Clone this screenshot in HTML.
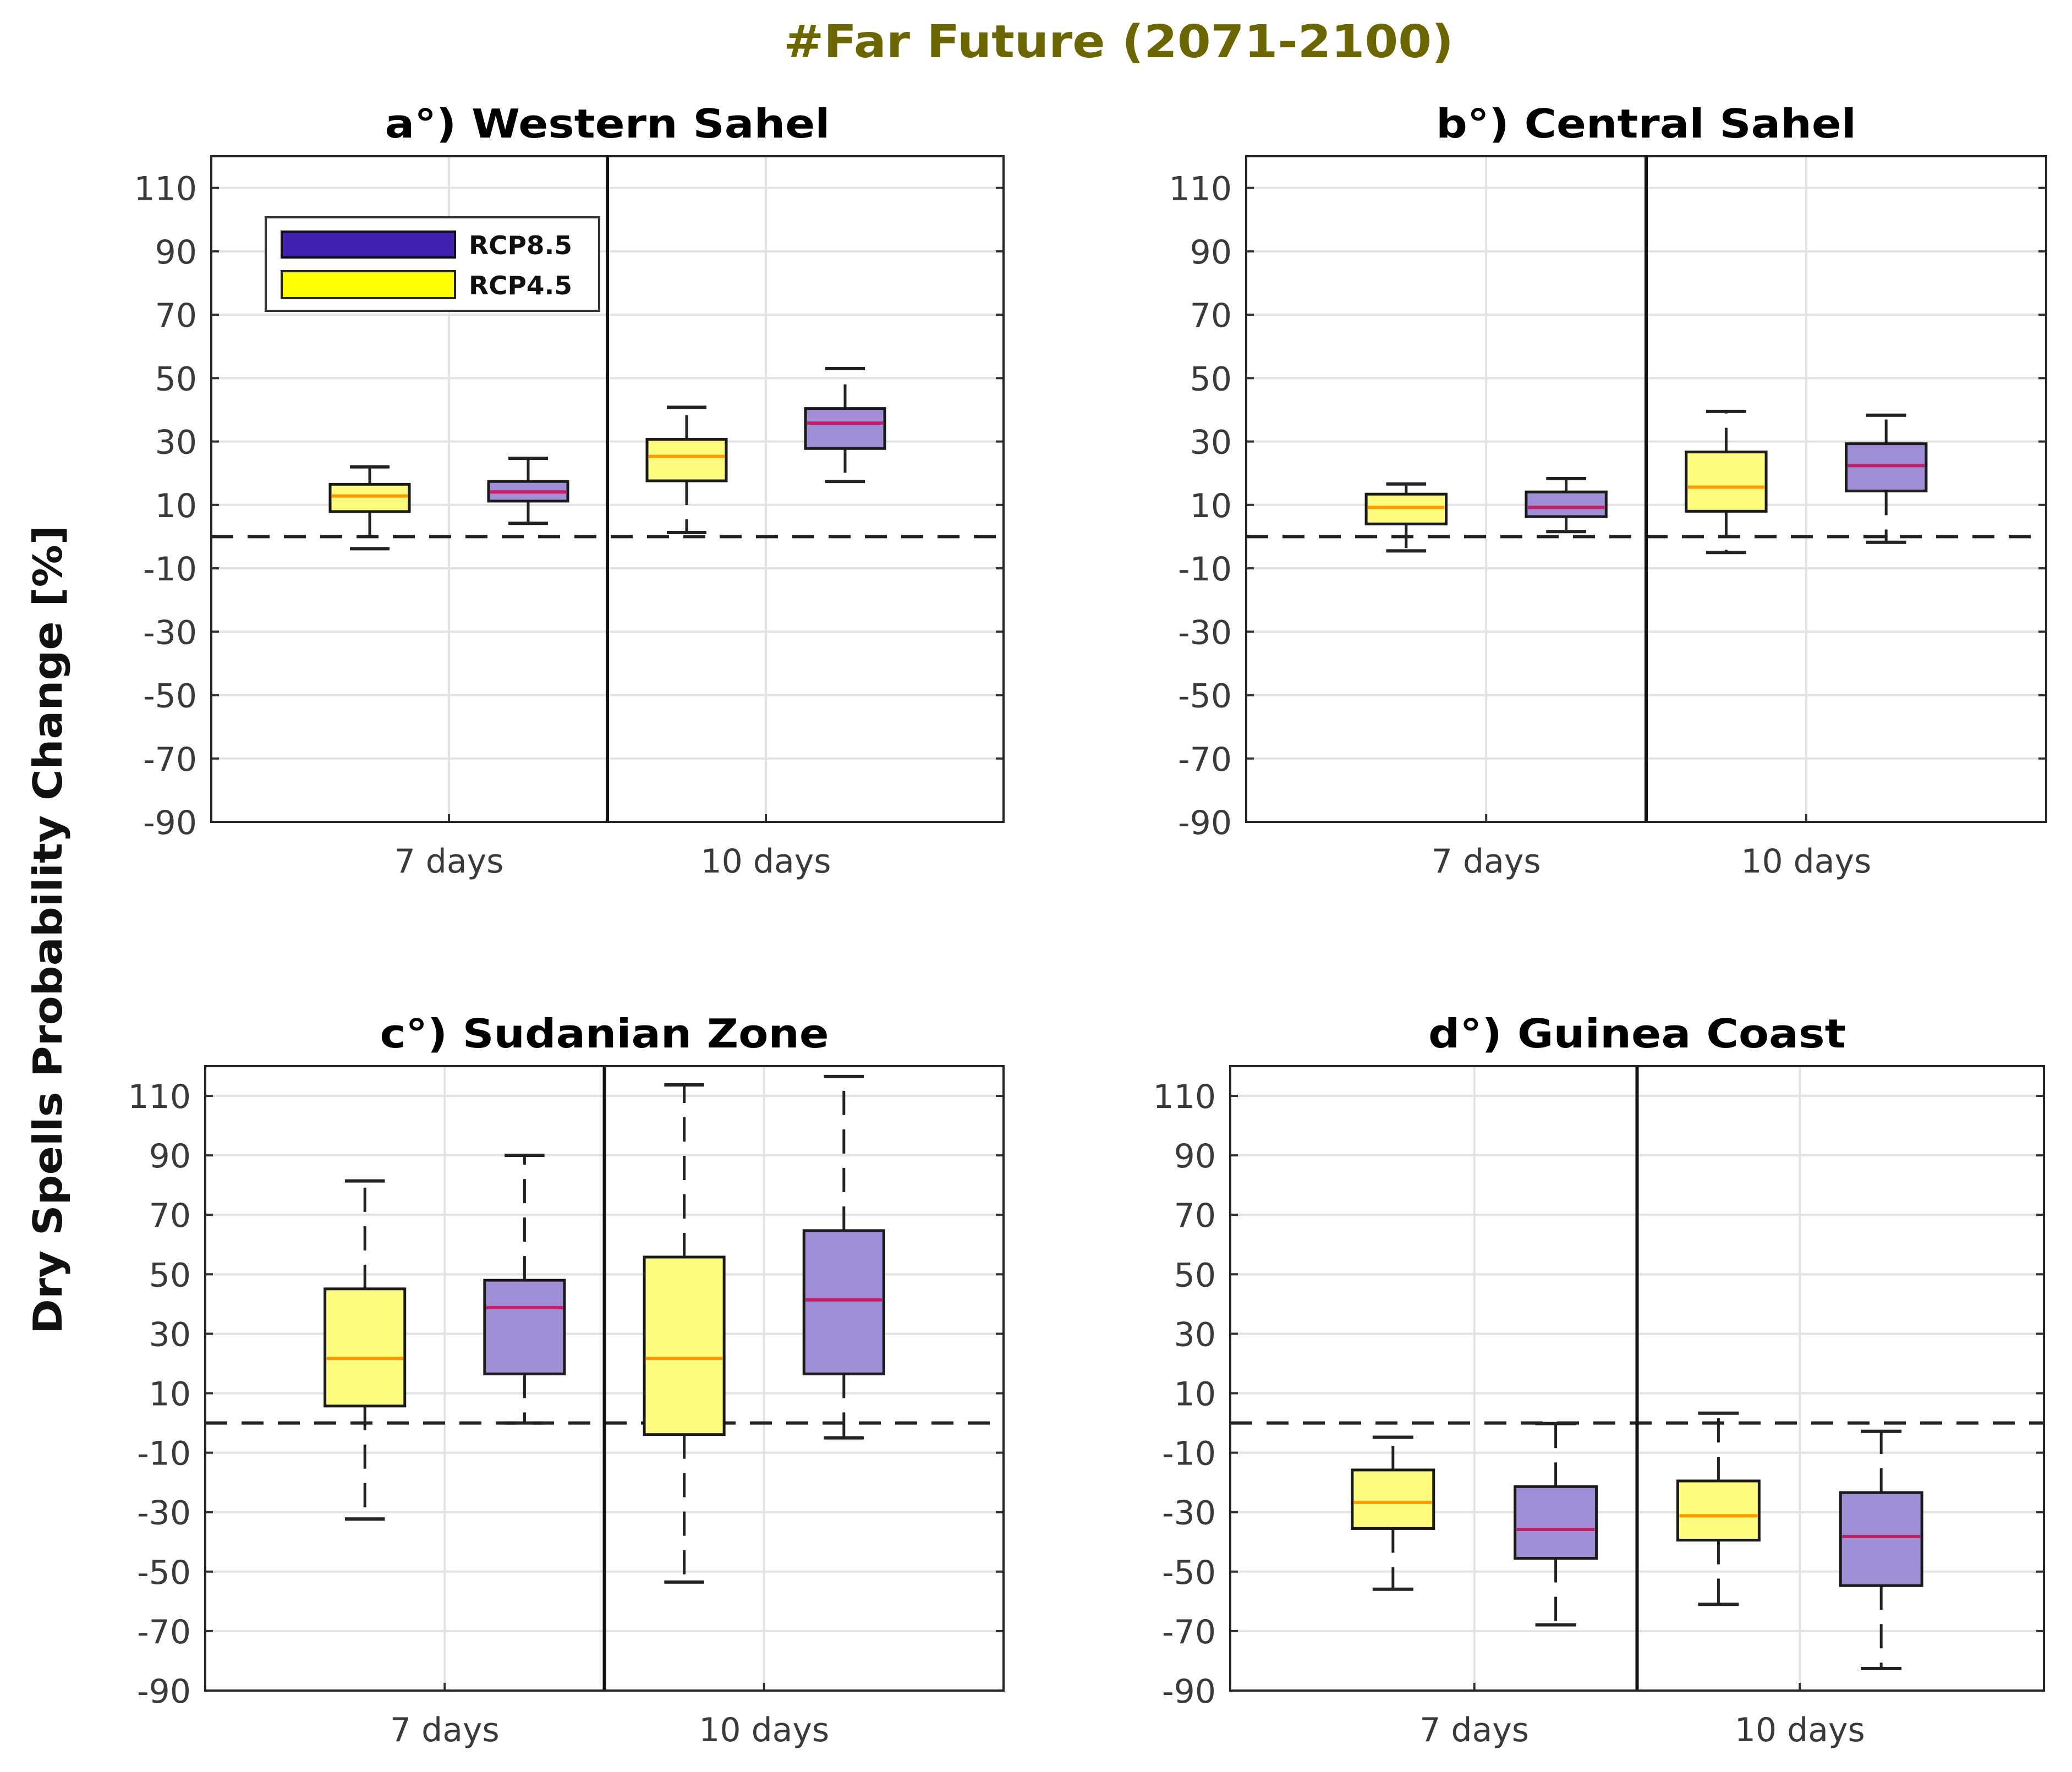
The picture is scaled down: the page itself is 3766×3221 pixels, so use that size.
<!DOCTYPE html>
<html><head><meta charset="utf-8"><style>
html,body{margin:0;padding:0;background:#fff;}
svg{display:block;font-family:"DejaVu Sans","Liberation Sans",sans-serif;}
</style></head><body>
<svg id="fig" width="3766" height="3221" viewBox="0 0 3766 3221" xmlns="http://www.w3.org/2000/svg">
<text x="2033" y="104" text-anchor="middle" font-size="82" font-weight="bold" fill="#6b6600" textLength="1218" lengthAdjust="spacingAndGlyphs">#Far Future (2071-2100)</text>
<text transform="translate(112,1690) rotate(-90)" text-anchor="middle" font-size="72" font-weight="bold" fill="#111" textLength="1470" lengthAdjust="spacingAndGlyphs">Dry Spells Probability Change [%]</text>
<g id="panels"></g>
</svg>
<script>
const categories = ["7 days", "10 days"];
const series = ["RCP4.5", "RCP8.5"];
const yTicks = [110, 90, 70, 50, 30, 10, -10, -30, -50, -70, -90];
const panelTitles = ["a°)  Western Sahel", "b°)  Central Sahel", "c°)  Sudanian Zone", "d°)  Guinea Coast"];
// each box: [lowWhisker, q1, median, q3, highWhisker]; order: 7d-RCP4.5, 7d-RCP8.5, 10d-RCP4.5, 10d-RCP8.5
const boxesA = [[-3.8,7.9,12.8,16.5,22],[4.2,11.2,14.1,17.4,24.7],[1.3,17.6,25.3,30.7,40.8],[17.4,27.8,35.8,40.4,53]];
const boxesB = [[-4.5,4.0,9.2,13.4,16.6],[1.6,6.3,9.2,14.1,18.3],[-5.0,8.0,15.6,26.7,39.5],[-1.8,14.4,22.4,29.3,38.3]];
const boxesC = [[-32.3,5.7,21.7,45.1,81.4],[0,16.5,38.8,48,90],[-53.5,-3.9,21.7,55.8,113.7],[-5,16.5,41.4,64.7,116.5]];
const boxesD = [[-55.9,-35.5,-26.7,-15.8,-4.8],[-67.9,-45.5,-35.8,-21.4,-0.2],[-61,-39.4,-31.2,-19.5,3.3],[-82.6,-54.7,-38.2,-23.4,-2.8]];
const allBoxes = [boxesA, boxesB, boxesC, boxesD];

const layout = [
  {x0:384,x1:1824,y0:284,y1:1494,ty:250,tw:809},
  {x0:2265,x1:3719,y0:284,y1:1494,ty:250,tw:764},
  {x0:373,x1:1824,y0:1938,y1:3073,ty:1904,tw:816},
  {x0:2236,x1:3715,y0:1938,y1:3073,ty:1904,tw:759}
];
const NS="http://www.w3.org/2000/svg";
const root=document.getElementById('panels');
function mk(tag,attrs,parent){const e=document.createElementNS(NS,tag);for(const k in attrs)e.setAttribute(k,attrs[k]);(parent||root).appendChild(e);return e;}
const fills=["#fdfc7e","#a08fd6"], meds=["#ff9a00","#c41e6a"];

allBoxes.forEach((boxes,pi)=>{
  const L=layout[pi];
  const g=mk('g',{});
  
  
  const X=v=>L.x0+(v/5)*(L.x1-L.x0);
  const Y=v=>L.y1-((v+90)/210)*(L.y1-L.y0);
  yTicks.forEach(t=>{
    const gl=mk('line',{x1:L.x0,x2:L.x1,y1:Y(t),y2:Y(t),stroke:'#e3e3e3','stroke-width':4},g);
    
    
    mk('line',{x1:L.x0,x2:L.x0+14,y1:Y(t),y2:Y(t),stroke:'#333','stroke-width':4},g);
    mk('line',{x1:L.x1-14,x2:L.x1,y1:Y(t),y2:Y(t),stroke:'#333','stroke-width':4},g);
    const tl=mk('text',{x:L.x0-26,y:Y(t)+22,'text-anchor':'end','font-size':60,fill:'#3a3a3a'},g);
    tl.textContent=t;
    
    
  });
  categories.forEach((c,ci)=>{
    const xv=1.5+2*ci;
    const vl=mk('line',{x1:X(xv),x2:X(xv),y1:L.y0,y2:L.y1,stroke:'#e3e3e3','stroke-width':4},g);
    
    
    mk('line',{x1:X(xv),x2:X(xv),y1:L.y1-14,y2:L.y1,stroke:'#333','stroke-width':4},g);
    const xl=mk('text',{x:X(xv),y:L.y1+92,'text-anchor':'middle','font-size':60,fill:'#3a3a3a'},g);
    xl.textContent=c;
    
    
  });
  const zl=mk('line',{x1:L.x0,x2:L.x1,y1:Y(0),y2:Y(0),stroke:'#222','stroke-width':6,'stroke-dasharray':'40,26'},g);
  
  
  boxes.forEach((b,bi)=>{
    const s=bi%2, xc=X(bi+1), hw=(X(0.25)-X(0)), cw=(X(0.125)-X(0));
    const bg=mk('g',{},g);
    
    
    mk('line',{x1:xc,x2:xc,y1:Y(b[3]),y2:Y(b[4]),stroke:'#222','stroke-width':5,'stroke-dasharray':'44,26'},bg);
    mk('line',{x1:xc,x2:xc,y1:Y(b[1]),y2:Y(b[0]),stroke:'#222','stroke-width':5,'stroke-dasharray':'44,26'},bg);
    mk('line',{x1:xc-cw,x2:xc+cw,y1:Y(b[4]),y2:Y(b[4]),stroke:'#222','stroke-width':6},bg);
    mk('line',{x1:xc-cw,x2:xc+cw,y1:Y(b[0]),y2:Y(b[0]),stroke:'#222','stroke-width':6},bg);
    mk('rect',{x:xc-hw,y:Y(b[3]),width:2*hw,height:Y(b[1])-Y(b[3]),fill:fills[s],stroke:'#1a1a1a','stroke-width':5},bg);
    mk('line',{x1:xc-hw+3,x2:xc+hw-3,y1:Y(b[2]),y2:Y(b[2]),stroke:meds[s],'stroke-width':6},bg);
  });
  const dv=mk('line',{x1:X(2.5),x2:X(2.5),y1:L.y0,y2:L.y1,stroke:'#111','stroke-width':6},g);
  
  
  mk('rect',{x:L.x0,y:L.y0,width:L.x1-L.x0,height:L.y1-L.y0,fill:'none',stroke:'#262626','stroke-width':4},g);
  const tt=mk('text',{x:X(2.5),y:L.ty,'text-anchor':'middle','font-size':72,'font-weight':'bold',fill:'#000','xml:space':'preserve',textLength:L.tw,lengthAdjust:'spacingAndGlyphs'},g);
  tt.textContent=panelTitles[pi];
  
  
});
const lg=mk('g',{});


mk('rect',{x:483,y:395,width:606,height:170,fill:'#fff',stroke:'#333','stroke-width':4},lg);
mk('rect',{x:512,y:421,width:315,height:47,fill:'#4121b0',stroke:'#111','stroke-width':4},lg);
mk('rect',{x:512,y:493,width:315,height:49,fill:'#ffff00',stroke:'#222','stroke-width':4},lg);
const l1=mk('text',{x:852,y:462,'font-size':46,'font-weight':'bold',fill:'#111',textLength:188,lengthAdjust:'spacingAndGlyphs'},lg);
l1.textContent="RCP8.5";


const l2=mk('text',{x:852,y:535,'font-size':46,'font-weight':'bold',fill:'#111',textLength:188,lengthAdjust:'spacingAndGlyphs'},lg);
l2.textContent="RCP4.5";


</script>
</body></html>
